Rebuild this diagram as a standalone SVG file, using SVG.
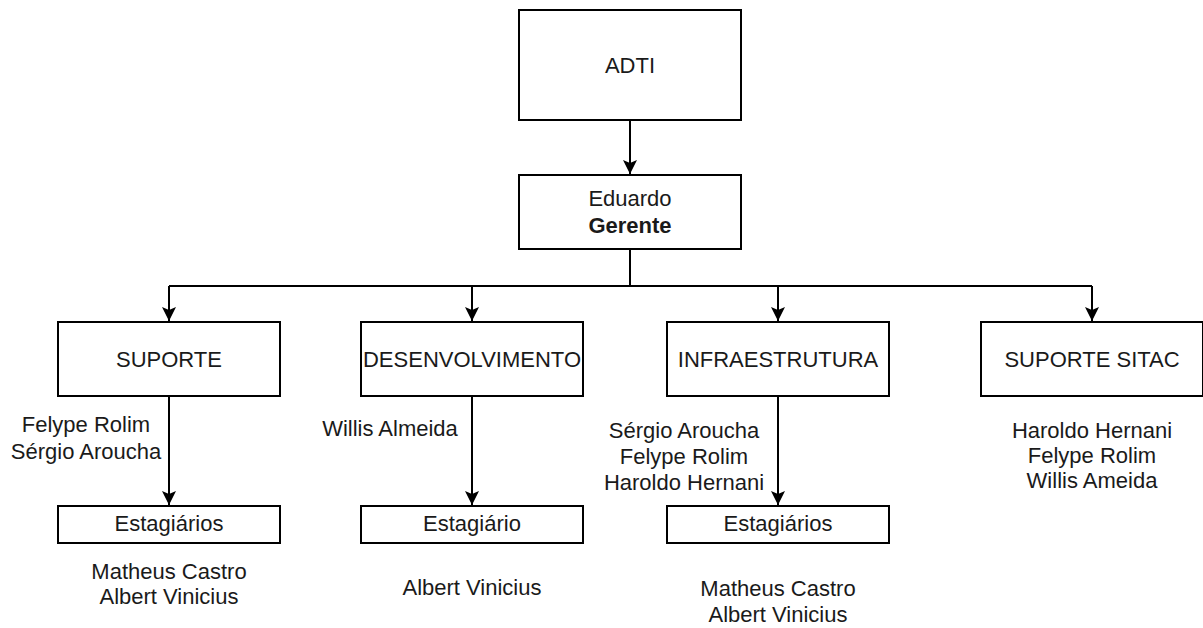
<svg xmlns="http://www.w3.org/2000/svg" width="1203" height="628" viewBox="0 0 1203 628">
<style>
.box{fill:#fff;stroke:#000;stroke-width:2}
.t{font-family:"Liberation Sans",Arial,sans-serif;font-size:22px;fill:#1a1a1a;text-anchor:middle}
.b{font-weight:bold}
.c{fill:none;stroke:#000;stroke-width:2}
</style>
<defs>
<marker id="arr" markerUnits="userSpaceOnUse" markerWidth="16" markerHeight="16" viewBox="0 0 16 16" refX="15" refY="8" orient="auto">
<path d="M1,1 L15,8 L1,15 L4,8 Z" fill="#000"/>
</marker>
</defs>
<rect width="1203" height="628" fill="#fff"/>
<g id="connectors">
<path class="c" d="M630,120 V174" marker-end="url(#arr)"/>
<path class="c" d="M630,249 V286"/>
<path class="c" d="M169,286 H1092"/>
<path class="c" d="M169,286 V321" marker-end="url(#arr)"/>
<path class="c" d="M472,286 V321" marker-end="url(#arr)"/>
<path class="c" d="M778,286 V321" marker-end="url(#arr)"/>
<path class="c" d="M1092,286 V321" marker-end="url(#arr)"/>
<path class="c" d="M169,396 V505" marker-end="url(#arr)"/>
<path class="c" d="M472,396 V505" marker-end="url(#arr)"/>
<path class="c" d="M778,396 V505" marker-end="url(#arr)"/>
</g>
<g id="adti">
<rect class="box" x="519" y="10" width="222" height="110"/>
<text class="t" x="630" y="73">ADTI</text>
</g>
<g id="gerente">
<rect class="box" x="519" y="175" width="222" height="74"/>
<text class="t" x="630" y="206">Eduardo</text>
<text class="t b" x="630" y="233">Gerente</text>
</g>
<g id="suporte">
<rect class="box" x="58" y="322" width="222" height="74"/>
<text class="t" x="169" y="367">SUPORTE</text>
</g>
<g id="desenvolvimento">
<rect class="box" x="361" y="322" width="222" height="74"/>
<text class="t" x="472" y="367">DESENVOLVIMENTO</text>
</g>
<g id="infraestrutura">
<rect class="box" x="667" y="322" width="222" height="74"/>
<text class="t" x="778" y="367">INFRAESTRUTURA</text>
</g>
<g id="suporte-sitac">
<rect class="box" x="981" y="322" width="222" height="74"/>
<text class="t" x="1092" y="367">SUPORTE SITAC</text>
</g>
<g id="suporte-membros">
<text class="t" x="86" y="432">Felype Rolim</text>
<text class="t" x="86" y="459">Sérgio Aroucha</text>
</g>
<g id="desenv-membros">
<text class="t" x="390" y="436">Willis Almeida</text>
</g>
<g id="infra-membros">
<text class="t" x="684" y="438">Sérgio Aroucha</text>
<text class="t" x="684" y="464">Felype Rolim</text>
<text class="t" x="684" y="490">Haroldo Hernani</text>
</g>
<g id="sitac-membros">
<text class="t" x="1092" y="438">Haroldo Hernani</text>
<text class="t" x="1092" y="463">Felype Rolim</text>
<text class="t" x="1092" y="488">Willis Ameida</text>
</g>
<g id="suporte-estagiarios">
<rect class="box" x="58" y="506" width="222" height="37"/>
<text class="t" x="169" y="531">Estagiários</text>
<text class="t" x="169" y="579">Matheus Castro</text>
<text class="t" x="169" y="604">Albert Vinicius</text>
</g>
<g id="desenv-estagiario">
<rect class="box" x="361" y="506" width="222" height="37"/>
<text class="t" x="472" y="531">Estagiário</text>
<text class="t" x="472" y="595">Albert Vinicius</text>
</g>
<g id="infra-estagiarios">
<rect class="box" x="667" y="506" width="222" height="37"/>
<text class="t" x="778" y="531">Estagiários</text>
<text class="t" x="778" y="596">Matheus Castro</text>
<text class="t" x="778" y="622">Albert Vinicius</text>
</g>
</svg>
